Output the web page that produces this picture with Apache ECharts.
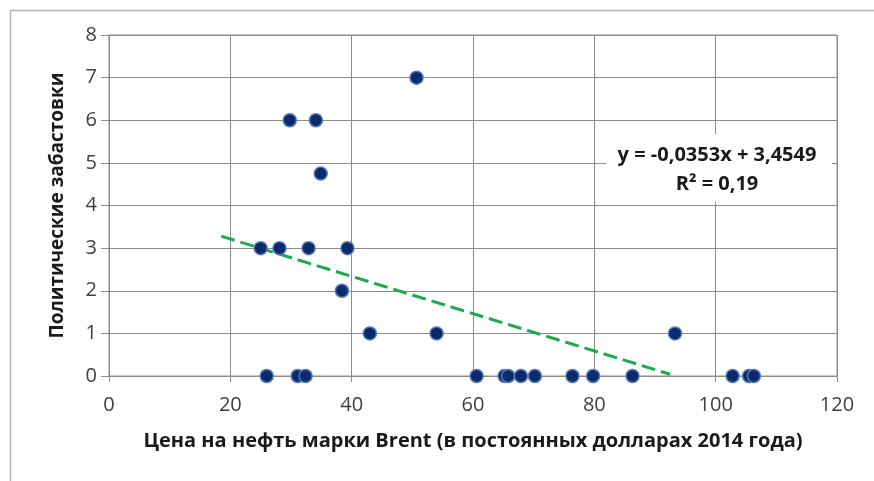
<!DOCTYPE html>
<html>
<head>
<meta charset="utf-8">
<script src="https://cdn.jsdelivr.net/npm/echarts@6/dist/echarts.min.js"></script>
<style>html,body{margin:0;padding:0;background:#fff}#c{width:874px;height:481px}</style>
</head>
<body>
<div id="c"></div>
<script>
var oilPrice = [25.0, 28.1, 32.9, 39.3, 26.0, 31.1, 32.4, 29.8, 34.1, 34.9, 50.7, 38.4, 43.0, 54.0, 60.6, 65.2, 65.8, 67.9, 70.2, 76.4, 79.8, 86.3, 93.3, 102.8, 105.5, 106.3];
var strikes  = [3, 3, 3, 3, 0, 0, 0, 6, 6, 4.75, 7, 2, 1, 1, 0, 0, 0, 0, 0, 0, 0, 0, 1, 0, 0, 0];
var trendX = [18.5, 92.5];
var trendY = [3.28, 0.04];
var xTicks = [0, 20, 40, 60, 80, 100, 120];
var yTicks = [0, 1, 2, 3, 4, 5, 6, 7, 8];
var equationText = 'y = -0,0353x + 3,4549';
var r2Text = 'R² = 0,19';
var xTitle = 'Цена на нефть марки Brent (в постоянных долларах 2014 года)';
var yTitle = 'Политические забастовки';

var pts = oilPrice.map(function (x, i) { return [x, strikes[i]]; });
var trend = trendX.map(function (x, i) { return [x, trendY[i]]; });
var font = '"Open Sans", "DejaVu Sans", sans-serif';

var chart = echarts.init(document.getElementById('c'), null, {renderer: 'canvas'});
chart.setOption({
  animation: false,
  backgroundColor: '#fff',
  graphic: [{
    type: 'rect', left: 8, top: 8, silent: true,
    shape: {x: 0, y: 0, width: 900, height: 500},
    style: {fill: 'none', stroke: '#b4b4b4', lineWidth: 1.5}
  }, {
    type: 'rect', x: 606, y: 134, silent: true, z: 10,
    shape: {x: 0, y: 0, width: 226, height: 68},
    style: {fill: '#fff', stroke: 'none'}
  }, {
    type: 'text', x: 717, y: 155, z: 11,
    style: {text: equationText, font: 'bold 20px ' + font, fill: '#1a1a1a', align: 'center', verticalAlign: 'middle'}
  }, {
    type: 'text', x: 717, y: 184, z: 11,
    style: {text: r2Text, font: 'bold 20px ' + font, fill: '#1a1a1a', align: 'center', verticalAlign: 'middle'}
  }],
  grid: {left: 109, right: 37, top: 35, bottom: 105, show: true, borderColor: '#8c8c8c', borderWidth: 1},
  xAxis: {
    type: 'value', min: xTicks[0], max: xTicks[xTicks.length - 1], interval: 20,
    name: xTitle, nameLocation: 'middle', nameGap: 55,
    nameTextStyle: {fontFamily: font, fontWeight: 'bold', fontSize: 20, color: '#1a1a1a'},
    axisLine: {show: true, onZero: false, lineStyle: {color: '#8c8c8c'}},
    axisTick: {show: true, length: 6, lineStyle: {color: '#8c8c8c'}},
    axisLabel: {fontFamily: font, fontSize: 20, color: '#404040', margin: 19},
    splitLine: {show: true, lineStyle: {color: '#8c8c8c', width: 1}}
  },
  yAxis: {
    type: 'value', min: yTicks[0], max: yTicks[yTicks.length - 1], interval: 1,
    name: yTitle, nameLocation: 'middle', nameGap: 42, nameRotate: 90,
    nameTextStyle: {fontFamily: font, fontWeight: 'bold', fontSize: 19, color: '#1a1a1a'},
    axisLine: {show: true, lineStyle: {color: '#8c8c8c'}},
    axisTick: {show: true, length: 8, lineStyle: {color: '#8c8c8c'}},
    axisLabel: {fontFamily: font, fontSize: 20, color: '#404040', margin: 12},
    splitLine: {show: true, lineStyle: {color: '#8c8c8c', width: 1}}
  },
  series: [{
    type: 'line', data: trend, symbol: 'none', z: 3,
    lineStyle: {color: '#1aab4b', width: 3, type: [14, 6]}
  }, {
    type: 'scatter', data: pts, symbolSize: 13, z: 4,
    itemStyle: {color: '#0a2a6b', borderColor: '#5577bb', borderWidth: 1.5, opacity: 1}
  }]
});
</script>
</body>
</html>
